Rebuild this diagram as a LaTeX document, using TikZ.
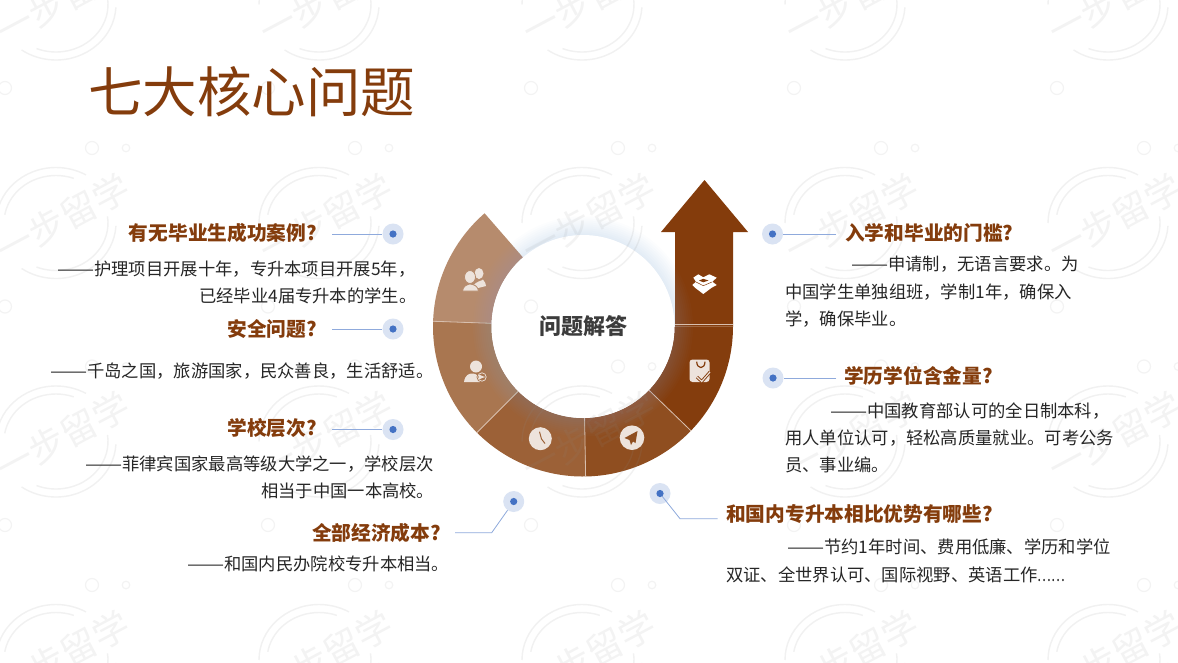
\documentclass[tikz,border=0pt]{standalone}
\usepackage{fontspec}
\setmainfont{Noto Sans CJK SC}
\usetikzlibrary{calc}
\definecolor{darkbrown}{HTML}{843C0C}
\definecolor{seg2}{HTML}{843D0D}
\definecolor{seg3}{HTML}{8F4E20}
\definecolor{seg4}{HTML}{9C6137}
\definecolor{seg5}{HTML}{A97650}
\definecolor{seg6}{HTML}{B68B6D}
\definecolor{bodytext}{HTML}{262626}
\definecolor{halocol}{HTML}{DAE3F3}
\definecolor{dotblue}{HTML}{4472C4}
\definecolor{leadercol}{HTML}{8FAADC}
\definecolor{iconcol}{HTML}{EDE3DC}
\definecolor{sepcol}{HTML}{D8BFAE}
\tikzset{
%Define style for the texts
question/.style={font=\bfseries\fontsize{19.7pt}{20pt}\selectfont, text=darkbrown, inner sep=0pt},
answer/.style={font=\fontsize{17.3pt}{17pt}\selectfont, text=bodytext, inner sep=0pt},
%Define style for the dots and their lines
halo/.style={circle, fill=halocol, minimum size=21pt, inner sep=0pt},
leader/.style={leadercol, line width=.8pt},
%Define style for the background marks
wmline/.style={wmcol, line width=1.4pt, opacity=.12},
wmcirc/.style={wmcol, line width=1.2pt, opacity=.1},
wmtext/.style={font=\fontsize{36pt}{36pt}\selectfont, text=wmcol, text opacity=.1, rotate=28, inner sep=0pt},
separator/.style={sepcol, line width=.8pt},
icon/.style={fill=iconcol},
}
\colorlet{wmcol}{black!45}
% One piece of the ring: start angle, end angle, colour
\newcommand{\ringseg}[3]{\fill[#3] (#1:91.5pt) arc (#1:#2:91.5pt) -- (#2:150pt) arc (#2:#1:150pt) -- cycle;}
% Dashes and dots as wide as in the picture
\newcommand{\longdash}{\scalebox{1.28}[1]{——}}
\newcommand{\shortdots}{\scalebox{.75}[1]{……}}

\begin{document}
\begin{tikzpicture}[x=1pt,y=-1pt]
    \clip (0,0) rectangle (1178,662);
    \fill[white] (0,0) rectangle (1178,662);
    \coordinate (ringc) at (583,326.5);

    % The arrow
    \fill[darkbrown] (675,326.5) -- (675,232) -- (661,232) -- (704.5,180)
      -- (748,232) -- (733,232) -- (733,326.5) -- cycle;

    % The ring
    \begin{scope}[shift={(ringc)}]
      \ringseg{0}{-44}{seg2}
      \ringseg{-44}{-89}{seg3}
      \ringseg{-89}{-135}{seg4}
      \ringseg{-135}{-182}{seg5}
      \ringseg{178}{131}{seg6}
      \draw[separator] (-44:91.5pt) -- (-44:150pt);
      \draw[separator] (-89:91.5pt) -- (-89:150pt);
      \draw[separator] (-135:91.5pt) -- (-135:150pt);
      \draw[separator] (178:91.5pt) -- (178:150pt);
      % Soft glow round the hole
      \foreach \r in {110,108,...,92}
        \fill[leadercol, opacity=.025] (0,0) circle (\r pt);
      \fill[white] (0,0) circle (91.5pt);
    \end{scope}
    \draw[separator] (675,324) -- (733,324);

    % The background marks
    \foreach \i in {0,...,4}
    \foreach \j in {0,...,3} {
      \begin{scope}[shift={(56+263*\i,4.5+218.5*\j)}]
        \node[wmtext] (wm\i\j) at (7,-5) {一步留学};
        \draw[wmline] (180:60pt and 55.5pt) arc[start angle=180,end angle=60,x radius=60pt,y radius=55.5pt];
        \draw[wmline] (170:52pt and 47.5pt) arc[start angle=170,end angle=70,x radius=52pt,y radius=47.5pt];
        \draw[wmline] (-3:60pt and 55.5pt) arc[start angle=-3,end angle=-125,x radius=60pt,y radius=55.5pt];
        \draw[wmline] (8:52pt and 47.5pt) arc[start angle=8,end angle=-112,x radius=52pt,y radius=47.5pt];
        \draw[wmcirc] (-51,83.5) circle (6.5pt);
        \draw[wmcirc] (36,143.5) circle (6.5pt);
        \draw[wmcirc] (70,143.5) circle (3.8pt);
      \end{scope}
    }

    % The icons: box
    \fill[white] (693.3,277.7) -- (698.3,274.3) -- (703.3,277.3) -- (709.3,274.3) -- (716.7,277.7)
      -- (712.3,281.7) -- (716.7,285) -- (711.7,287.7) -- (703.3,294) -- (695,287.7)
      -- (692.3,285) -- (696,281.7) -- cycle;
    \fill[darkbrown] (699,280.5) -- (703.3,278.8) -- (708.5,280.5) -- (703.3,282.3) -- cycle;
    \draw[darkbrown, line width=.5pt] (696,282) -- (703.3,285.7) -- (712,282);
    % tag
    \fill[icon, rounded corners=3pt] (689.5,359.5) rectangle (709.5,382);
    \draw[darkbrown, line width=1.2pt] (696.7,361.7) .. controls (697,369.5) and (704.8,369.5) .. (705,361.7);
    \draw[darkbrown, line width=3pt] (697,377) -- (701.7,381.5) -- (710,372);
    \draw[iconcol, line width=1.2pt] (697,377) -- (701.7,381.5) -- (710,372);
    % plane
    \fill[icon] (632,437.7) circle (12.3pt);
    \fill[seg3] (637.5,431) -- (624.5,438) -- (629.5,440) -- (631,445) -- (633,441.5) -- (635.5,443) -- cycle;
    % clock
    \fill[icon] (540.3,438.7) circle (11.5pt);
    \draw[seg4, line width=1pt] (539.5,431.7) -- (541.5,439) -- (545,443.5);
    % person with arrow
    \fill[icon] (476,366.5) circle (6pt);
    \fill[icon] (464,382) .. controls (465,375) and (469,373.5) .. (472,373.5)
      .. controls (476,373.5) and (479,375) .. (480,382) -- cycle;
    \fill[seg5] (482,377) circle (5.5pt);
    \draw[iconcol, line width=.7pt] (482,377) circle (4.2pt);
    \draw[iconcol, line width=1.2pt, -latex] (479,377) -- (485.5,377);
    % two persons
    \fill[icon] (479,273.5) ellipse (4.5pt and 5.5pt);
    \fill[icon] (473,286) .. controls (476,281) and (482,281) .. (483,279.5)
      .. controls (485,282) and (486,284) .. (486,286) -- (478,288) -- cycle;
    \fill[icon, draw=seg6, line width=.8pt] (470,277) ellipse (5.5pt and 6.5pt);
    \fill[icon, draw=seg6, line width=.8pt] (462.5,291) .. controls (463,286) and (467,284.5) .. (470,284)
      .. controls (474,284.5) and (478,286) .. (478.5,291) -- cycle;

    % The title and the middle
    \node[inner sep=0pt, anchor=west, text=darkbrown, font=\fontsize{54.5pt}{54pt}\selectfont] (title) at (88,92) {七大核心问题};
    \node[inner sep=0pt, text=bodytext!90, font=\bfseries\fontsize{22pt}{22pt}\selectfont] (middle) at (ringc) {问题解答};

    % Dots
    \foreach \n/\x/\y in {d1/393/234,d2/393/329,d3/393/429.5,d4/513.7/501.5,d5/772.5/234,d6/773/378,d7/660/493.5}
      \node[halo] (\n) at (\x,\y) {};

    % Their lines
    \coordinate (l1) at (332,234);
    \coordinate (l2) at (332,329);
    \coordinate (l3) at (332,429.5);
    \coordinate (l4) at (455,532.7);
    \coordinate (k4) at (491.7,532.7);
    \coordinate (l5) at (836,234);
    \coordinate (l6) at (836,378);
    \coordinate (l7) at (717.5,518.7);
    \coordinate (k7) at (680,518.7);
    \draw[leader] (l1) -- (d1);
    \draw[leader] (l2) -- (d2);
    \draw[leader] (l3) -- (d3);
    \draw[leader] (l4) -- (k4) -- (d4);
    \draw[leader] (l5) -- (d5);
    \draw[leader] (l6) -- (d6);
    \draw[leader] (l7) -- (k7) -- (d7.center);
    \foreach \n in {d1,d2,d3,d4,d5,d6,d7}
      \fill[dotblue] (\n) circle (3.6pt);

    % Left side
    \node[question, anchor=east] (q1) at (317,233) {有无毕业生成功案例?};
    \node[answer, anchor=west] (a1) at (57,269) {\longdash 护理项目开展十年，专升本项目开展5年，};
    \node[answer, anchor=west] (a1b) at (199,296) {已经毕业4届专升本的学生。};
    \node[question, anchor=east] (q2) at (317,329) {安全问题?};
    \node[answer, anchor=west] (a2) at (50,371) {\longdash 千岛之国，旅游国家，民众善良，生活舒适。};
    \node[question, anchor=east] (q3) at (317,428) {学校层次?};
    \node[answer, anchor=west] (a3) at (85,464) {\longdash 菲律宾国家最高等级大学之一，学校层次};
    \node[answer, anchor=west] (a3b) at (261,491) {相当于中国一本高校。};
    \node[question, anchor=east] (q4) at (441,533) {全部经济成本?};
    \node[answer, anchor=west] (a4) at (187,564) {\longdash 和国内民办院校专升本相当。};

    % Right side
    \node[question, anchor=west] (q5) at (845,233) {入学和毕业的门槛?};
    \node[answer, anchor=west] (a5) at (851,264) {\longdash 申请制，无语言要求。为};
    \node[answer, anchor=west] (a5b) at (785,292) {中国学生单独组班，学制1年，确保入};
    \node[answer, anchor=west] (a5c) at (785,319) {学，确保毕业。};
    \node[question, anchor=west] (q6) at (844,376) {学历学位含金量?};
    \node[answer, anchor=west] (a6) at (830,411) {\longdash 中国教育部认可的全日制本科，};
    \node[answer, anchor=west] (a6b) at (785,438) {用人单位认可，轻松高质量就业。可考公务};
    \node[answer, anchor=west] (a6c) at (785,465) {员、事业编。};
    \node[question, anchor=west] (q7) at (726,514) {和国内专升本相比优势有哪些?};
    \node[answer, anchor=west] (a7) at (787,547) {\longdash 节约1年时间、费用低廉、学历和学位};
    \node[answer, anchor=west] (a7b) at (726,575) {双证、全世界认可、国际视野、英语工作\shortdots};
\end{tikzpicture}
\end{document}
